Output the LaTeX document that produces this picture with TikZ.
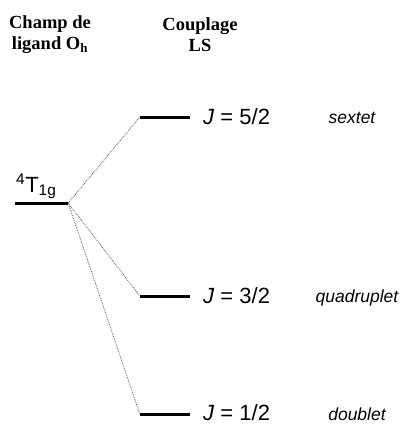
\documentclass[tikz,border=0pt]{standalone}
\usepackage{fontspec}
\setmainfont{Liberation Serif}
\setsansfont{Liberation Sans}
\usetikzlibrary{positioning}

\begin{document}
\begin{tikzpicture}[
    x=1pt, y=-1pt,
    level/.style={rectangle, fill=black, minimum width=50pt, minimum height=3pt, inner sep=0pt},
    jlabel/.style={font=\sffamily\fontsize{22}{22}\selectfont, inner sep=0pt, anchor=base west},
    mult/.style={font=\sffamily\itshape\fontsize{17.5}{17.5}\selectfont, inner sep=0pt, anchor=base},
    head/.style={font=\bfseries\fontsize{18.5}{21}\selectfont, align=center, inner sep=0pt},
    link/.style={black!65, densely dotted, line width=0.8pt},
]
\useasboundingbox (0,0) rectangle (406,424);

% Column titles
\node[head] (champ) at (50,35) {Champ de\\ligand O\textsubscript{h}};
\node[head] (couplage) at (200,35) {Couplage\\LS};

% Ligand field term
\node[level, minimum width=53pt] (t1g) at (41.5,203) {};
\node[font=\sffamily\fontsize{22}{22}\selectfont, inner sep=0pt, anchor=south west] (t1glabel) at (16,199) {\textsuperscript{4}T\textsubscript{1g}};

% Spin-orbit levels
\node[level] (j52) at (165,117) {};
\node[level] (j32) at (165,296) {};
\node[level] (j12) at (165,414) {};

% Level labels
\node[jlabel] (l52) at (203,124) {\textit{J} = 5/2};
\node[jlabel] (l32) at (203,303) {\textit{J} = 3/2};
\node[jlabel] (l12) at (203,420) {\textit{J} = 1/2};

\node[mult] (sextet) at (352,123) {sextet};
\node[mult] (quadruplet) at (357,302) {quadruplet};
\node[mult] (doublet) at (357,420) {doublet};

% Correlation lines
\draw[link] (t1g.east) -- (j52.west);
\draw[link] (t1g.east) -- (j32.west);
\draw[link] (t1g.east) -- (j12.west);

\end{tikzpicture}
\end{document}
